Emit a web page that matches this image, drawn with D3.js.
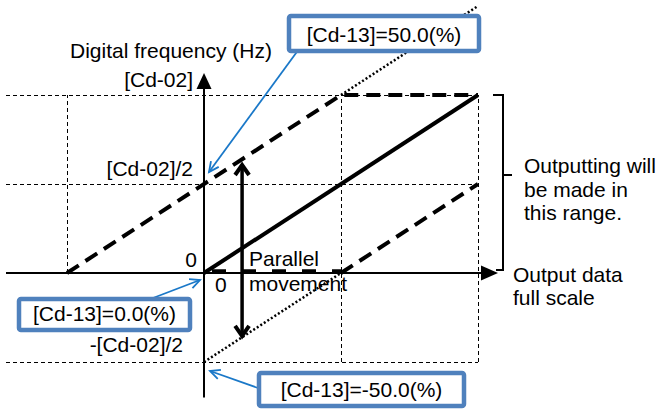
<!DOCTYPE html>
<html>
<head>
<meta charset="utf-8">
<script src="https://cdn.jsdelivr.net/npm/d3@7"></script>
<style>
  body { margin: 0; background: #fff; }
  text { font-family: "Liberation Sans", Arial, sans-serif; font-size: 21px; fill: #000; }
</style>
</head>
<body>
<div id="chart"></div>
<script>
// output data as a fraction of full scale (x) and of [Cd-02] (y)
const biasZero = [[0, 0], [1, 1]];
const biasPlus = [[-0.5, 0], [0.5, 1], [1, 1]];
const biasMinus = [[0.5, 0], [1, 0.5]];
const clampMinus = [[0, 0], [0.5, 0]];
const extPlus = [[0.5, 1], [1, 1.5]];
const extMinus = [[0, -0.5], [0.5, 0]];

const gridY = [1, 0.5, -0.5];
const gridX = [[-0.5, 0, 1], [0.5, -0.5, 1], [1, -0.5, 1]]; // x, from y, to y

const yLabels = [
    { v: 1, text: "[Cd-02]" },
    { v: 0.5, text: "[Cd-02]/2" },
    { v: -0.5, text: "-[Cd-02]/2" }
];

const moveArrow = { x: 0.139, y0: 0.618, y1: -0.365 };

const width = 657, height = 410;

const svg = d3.select("#chart").append("svg")
    .attr("width", width)
    .attr("height", height);

const x = d3.scaleLinear().domain([0, 1]).range([204, 478]);
const y = d3.scaleLinear().domain([0, 1]).range([273, 95]);

const line = d3.line().x(d => x(d[0])).y(d => y(d[1]));

// thin dashed guides
gridY.forEach(v => {
    svg.append("line")
        .attr("x1", 6).attr("x2", x(1))
        .attr("y1", Math.round(y(v)) + 0.5).attr("y2", Math.round(y(v)) + 0.5)
        .attr("stroke", "#000").attr("stroke-width", 1)
        .attr("stroke-dasharray", "4,3");
});
gridX.forEach(g => {
    svg.append("line")
        .attr("x1", Math.round(x(g[0])) + 0.5).attr("x2", Math.round(x(g[0])) + 0.5)
        .attr("y1", y(g[1])).attr("y2", y(g[2]))
        .attr("stroke", "#000").attr("stroke-width", 1)
        .attr("stroke-dasharray", "4,3");
});

// axes
svg.append("line")
    .attr("x1", 6).attr("x2", x(1.06))
    .attr("y1", y(0)).attr("y2", y(0))
    .attr("stroke", "#000").attr("stroke-width", 2);
svg.append("line")
    .attr("x1", x(0)).attr("x2", x(0))
    .attr("y1", y(-0.7)).attr("y2", y(1.08))
    .attr("stroke", "#000").attr("stroke-width", 2);

// axis arrowheads
svg.append("path")
    .attr("d", `M${x(0)},73 L${x(0) + 7.5},89 L${x(0) - 7.5},89 Z`)
    .attr("fill", "#000");
svg.append("path")
    .attr("d", `M498,${y(0)} L481,${y(0) - 7.5} L481,${y(0) + 7.5} Z`)
    .attr("fill", "#000");

// dotted extensions
[extPlus, extMinus].forEach(d => {
    svg.append("path")
        .attr("d", line(d))
        .attr("fill", "none")
        .attr("stroke", "#000").attr("stroke-width", 2.5)
        .attr("stroke-dasharray", "2,2.2");
});

// bias lines
svg.append("path")
    .attr("d", line(biasPlus))
    .attr("fill", "none")
    .attr("stroke", "#000").attr("stroke-width", 4)
    .attr("stroke-dasharray", "14,8");
svg.append("path")
    .attr("d", line(biasMinus))
    .attr("fill", "none")
    .attr("stroke", "#000").attr("stroke-width", 4)
    .attr("stroke-dasharray", "14,8");
svg.append("path")
    .attr("d", line(clampMinus))
    .attr("transform", "translate(0,-2)")
    .attr("fill", "none")
    .attr("stroke", "#000").attr("stroke-width", 3.5)
    .attr("stroke-dasharray", "0,8,14,8");
svg.append("path")
    .attr("d", line(biasZero))
    .attr("fill", "none")
    .attr("stroke", "#000").attr("stroke-width", 4);

// parallel movement arrow
const ax = x(moveArrow.x);
svg.append("line")
    .attr("x1", ax).attr("x2", ax)
    .attr("y1", y(moveArrow.y0) + 2).attr("y2", y(moveArrow.y1) - 2)
    .attr("stroke", "#000").attr("stroke-width", 3.5);
svg.append("path")
    .attr("d", `M${ax - 7},${y(moveArrow.y0) + 12} L${ax},${y(moveArrow.y0) + 2} L${ax + 7},${y(moveArrow.y0) + 12}`)
    .attr("fill", "none").attr("stroke", "#000").attr("stroke-width", 4);
svg.append("path")
    .attr("d", `M${ax - 7},${y(moveArrow.y1) - 12} L${ax},${y(moveArrow.y1) - 2} L${ax + 7},${y(moveArrow.y1) - 12}`)
    .attr("fill", "none").attr("stroke", "#000").attr("stroke-width", 4);

// bracket
const bx = 503;
svg.append("path")
    .attr("d", `M493,${y(1)} L${bx},${y(1)} L${bx},175 L512,175 M${bx},175 L${bx},${y(0) - 3} L496,${y(0) - 3}`)
    .attr("fill", "none").attr("stroke", "#000").attr("stroke-width", 2);

// labels
svg.append("text").attr("x", 70).attr("y", 58).text("Digital frequency (Hz)");
yLabels.forEach(l => {
    svg.append("text")
        .attr("x", l.v < 0 ? 183 : 193)
        .attr("y", l.v < 0 ? 352 : y(l.v) - 8)
        .attr("text-anchor", "end")
        .text(l.text);
});
svg.append("text").attr("x", 197).attr("y", 267).attr("text-anchor", "end").text("0");
svg.append("text").attr("x", 215).attr("y", 292).text("0");
svg.append("text").attr("x", 249).attr("y", 266).text("Parallel");
svg.append("text").attr("x", 249).attr("y", 291).text("movement");

["Outputting will", "be made in", "this range."].forEach((t, i) => {
    svg.append("text").attr("x", 524).attr("y", 173 + i * 23.5).text(t);
});
["Output data", "full scale"].forEach((t, i) => {
    svg.append("text").attr("x", 513).attr("y", 282 + i * 23).text(t);
});

// callout boxes with blue arrows
const callouts = [
    { text: "[Cd-13]=50.0(%)", box: [289, 16, 190, 35], from: [299, 49], to: [x(0) + 5, y(0.5) - 12] },
    { text: "[Cd-13]=0.0(%)", box: [19, 299, 171, 31], from: [153, 298], to: [x(0) - 4, y(0) + 7] },
    { text: "[Cd-13]=-50.0(%)", box: [259, 373, 205, 33], from: [258, 388], to: [x(0) + 6, y(-0.5) + 9] }
];

callouts.forEach(c => {
    const [x1, y1] = c.from, [x2, y2] = c.to;
    const ang = Math.atan2(y2 - y1, x2 - x1);
    const len = 11, spread = 0.45;
    svg.append("line")
        .attr("x1", x1).attr("y1", y1).attr("x2", x2).attr("y2", y2)
        .attr("stroke", "#1a78c8").attr("stroke-width", 1.8);
    svg.append("path")
        .attr("d", `M${x2 - len * Math.cos(ang - spread)},${y2 - len * Math.sin(ang - spread)} L${x2},${y2} L${x2 - len * Math.cos(ang + spread)},${y2 - len * Math.sin(ang + spread)}`)
        .attr("fill", "none").attr("stroke", "#1a78c8").attr("stroke-width", 1.8);
    svg.append("rect")
        .attr("x", c.box[0]).attr("y", c.box[1])
        .attr("width", c.box[2]).attr("height", c.box[3])
        .attr("rx", 2)
        .attr("fill", "#fff").attr("stroke", "#4f81bd").attr("stroke-width", 4.5);
    svg.append("text")
        .attr("x", c.box[0] + c.box[2] / 2)
        .attr("y", c.box[1] + c.box[3] - 9)
        .attr("text-anchor", "middle")
        .text(c.text);
});
</script>
</body>
</html>
